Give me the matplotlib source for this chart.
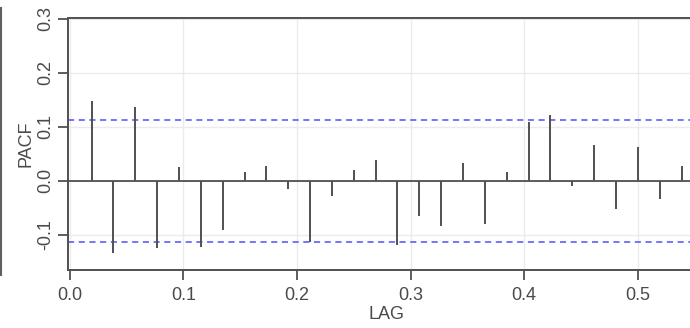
import matplotlib

matplotlib.use("Agg")
import matplotlib.pyplot as plt
from matplotlib.lines import Line2D

# PACF values, lags k/52 for k = 1..28
lag_index = list(range(1, 29))
pacf_vals = [
    0.147, -0.134, 0.136, -0.125, 0.025, -0.122, -0.091, 0.016, 0.027, -0.015,
    -0.114, -0.029, 0.020, 0.039, -0.119, -0.066, -0.083, 0.033, -0.080, 0.016,
    0.109, 0.121, -0.009, 0.067, -0.052, 0.062, -0.033, 0.027,
]
freq = 52
conf_bound = 0.113
x_ticks = [0.0, 0.1, 0.2, 0.3, 0.4, 0.5]
y_ticks = [-0.1, 0.0, 0.1, 0.2, 0.3]
y_tick_labels = ["-0.1", "0.0", "0.1", "0.2", "0.3"]

lags = [k / freq for k in lag_index]

plt.rcParams["font.family"] = ["Liberation Sans", "DejaVu Sans"]
text_col = "#4a4a4a"
axis_col = "#505050"

fig = plt.figure(figsize=(6.9, 3.28), dpi=100)
ax = fig.add_axes([68 / 690, 1 - 270 / 328, (706 - 68) / 690, (270 - 18) / 328])

ax.set_xlim(-0.0015, 0.560)
ax.set_ylim(-0.165, 0.301)

ax.grid(True, color="#ebebeb", lw=1.0)
ax.set_axisbelow(True)

ax.axhline(0, color=axis_col, lw=1.3, zorder=2)
ax.vlines(lags, 0, pacf_vals, color=axis_col, lw=1.4, zorder=3)
for b in (conf_bound, -conf_bound):
    ax.axhline(b, color="#4f4fff", lw=1.1, ls=(0, (4, 3)), zorder=2)

ax.set_xticks(x_ticks)
ax.set_xticklabels([f"{t:.1f}" for t in x_ticks])
ax.set_yticks(y_ticks)
ax.set_yticklabels(y_tick_labels, rotation=90, va="center")

ax.tick_params(axis="x", direction="out", length=7, width=1.3, pad=5,
               colors=axis_col, labelcolor=text_col, labelsize=13)
ax.tick_params(axis="y", direction="out", length=7, width=1.3, pad=3,
               colors=axis_col, labelcolor=text_col, labelsize=13)

for s in ax.spines.values():
    s.set_color(axis_col)
    s.set_linewidth(1.4)

ax.set_xlabel("LAG", color=text_col, fontsize=13, labelpad=2)
ax.set_ylabel("PACF", color=text_col, fontsize=13, labelpad=2)

# stray border line at the far left of the reference image
fig.add_artist(Line2D([1 / 690, 1 / 690], [1 - 8 / 328, 1 - 275 / 328],
                      transform=fig.transFigure, color="#606060", lw=1.5))

fig.savefig("out.png", dpi=100)
